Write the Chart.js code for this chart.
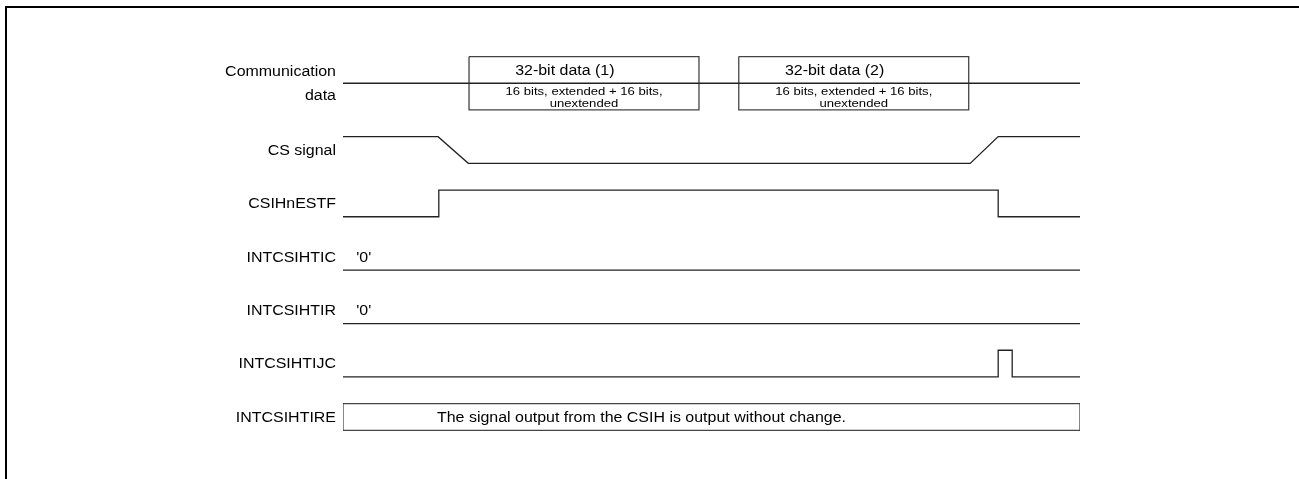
<!DOCTYPE html>
<html>
<head>
<meta charset="utf-8">
<script src="https://cdn.jsdelivr.net/npm/chart.js@4"></script>
<style>
  body { margin: 0; background: #fff; }
  #wrap { position: relative; width: 1299px; height: 479px; overflow: hidden; }
  #frame { position: absolute; left: 5px; top: 6px; width: 1400px; height: 600px;
           border-left: 2px solid #000; border-top: 2px solid #000; }
  canvas { position: absolute; left: 0; top: 0; }
</style>
</head>
<body>
<div id="wrap">
  <canvas id="Estadistica" width="1299" height="479"></canvas>
  <div id="frame"></div>
</div>
<script>
// signal names (left column)
const signalNames = ['Communication\ndata', 'CS signal', 'CSIHnESTF', 'INTCSIHTIC', 'INTCSIHTIR', 'INTCSIHTIJC', 'INTCSIHTIRE'];

// time axis 0..100, level 1 = high, 0 = low
const csTimes   = [0, 12.9, 17.0, 85.1, 88.9, 100];
const csLevels  = [1, 1, 0, 0, 1, 1];
const estfTimes  = [0, 13.0, 13.0, 88.9, 88.9, 100];
const estfLevels = [0, 0, 1, 1, 0, 0];
const ticTimes  = [0, 100];
const ticLevels = [0, 0];
const tirTimes  = [0, 100];
const tirLevels = [0, 0];
const ijcTimes  = [0, 88.9, 88.9, 90.8, 90.8, 100];
const ijcLevels = [0, 0, 1, 1, 0, 0];

// communication data frames
const frameStart = [17.1, 53.7];
const frameEnd   = [48.3, 84.9];
const frameTitle = ['32-bit data (1)', '32-bit data (2)'];
const frameNote1 = ['16 bits, extended + 16 bits,', '16 bits, extended + 16 bits,'];
const frameNote2 = ['unextended', 'unextended'];

const zeroText = "'0'";
const ireText = 'The signal output from the CSIH is output without change.';

// layout of rows on the y axis (row index -> y value)
const rowY = [-0.25, 1, 2, 3, 4, 5, 6];
const AMP = 0.25;
const LINE = '#222';

function wave(row, times, levels) {
  return times.map((t, i) => ({ x: t, y: rowY[row] + (levels[i] ? -AMP : AMP) }));
}
function rect(row, s, e, h) {
  const y0 = rowY[row] - h, y1 = rowY[row] + h;
  return [{x: s, y: y0}, {x: e, y: y0}, {x: e, y: y1}, {x: s, y: y1}, {x: s, y: y0}];
}

const datasets = [];
datasets.push({ data: [{x: 0, y: rowY[0]}, {x: 100, y: rowY[0]}] });
frameStart.forEach((s, i) => datasets.push({ data: rect(0, s, frameEnd[i], 0.5), borderColor: '#444' }));
datasets.push({ data: wave(1, csTimes, csLevels) });
datasets.push({ data: wave(2, estfTimes, estfLevels) });
datasets.push({ data: wave(3, ticTimes, ticLevels) });
datasets.push({ data: wave(4, tirTimes, tirLevels) });
datasets.push({ data: wave(5, ijcTimes, ijcLevels) });
datasets.push({ data: rect(6, 0, 100, AMP), borderColor: '#444' });
datasets.forEach(d => {
  d.borderColor = d.borderColor || LINE;
  d.borderWidth = 1.3;
  d.pointRadius = 0;
  d.fill = false;
  d.tension = 0;
});

function txt(ctx, s, x, y, align, size) {
  ctx.save();
  ctx.font = size + 'px "Liberation Sans", Arial, sans-serif';
  ctx.fillStyle = '#000';
  ctx.textAlign = align;
  ctx.textBaseline = 'middle';
  ctx.translate(x, y);
  ctx.scale(1.14, 1);
  ctx.fillText(s, 0, 0);
  ctx.restore();
}

const textPlugin = {
  id: 'timingText',
  afterDatasetsDraw(chart) {
    const ctx = chart.ctx, xs = chart.scales.x, ys = chart.scales.y;
    // signal names
    signalNames.forEach((name, i) => {
      const parts = name.split('\n');
      const yc = ys.getPixelForValue(rowY[i]) + 1;
      parts.forEach((p, k) => {
        const off = (k - (parts.length - 1) / 2) * 24;
        txt(ctx, p, xs.left - 7, yc + off, 'right', 14);
      });
    });
    // frame texts
    frameStart.forEach((s, i) => {
      const mid = (s + frameEnd[i]) / 2;
      txt(ctx, frameTitle[i], xs.getPixelForValue(mid - 2.6), ys.getPixelForValue(rowY[0] - 0.22), 'center', 14);
      txt(ctx, frameNote1[i], xs.getPixelForValue(mid), ys.getPixelForValue(rowY[0] + 0.16), 'center', 11.5);
      txt(ctx, frameNote2[i], xs.getPixelForValue(mid), ys.getPixelForValue(rowY[0] + 0.39), 'center', 11.5);
    });
    txt(ctx, zeroText, xs.getPixelForValue(1.8), ys.getPixelForValue(rowY[3]) + 1, 'left', 14);
    txt(ctx, zeroText, xs.getPixelForValue(1.8), ys.getPixelForValue(rowY[4]) + 1, 'left', 14);
    txt(ctx, ireText, xs.getPixelForValue(12.75), ys.getPixelForValue(rowY[6]) + 1, 'left', 14);
  }
};

const ctx = document.getElementById('Estadistica');
new Chart(ctx, {
  type: 'line',
  data: { datasets: datasets },
  options: {
    responsive: false,
    animation: false,
    devicePixelRatio: 1,
    layout: { padding: { left: 343, right: 219, top: 16.5, bottom: 8.6 } },
    plugins: { legend: { display: false }, tooltip: { enabled: false } },
    scales: {
      x: { type: 'linear', min: 0, max: 100, display: false },
      y: { type: 'linear', min: -1.5, max: 7, reverse: true, display: false }
    }
  },
  plugins: [textPlugin]
});
</script>
</body>
</html>
